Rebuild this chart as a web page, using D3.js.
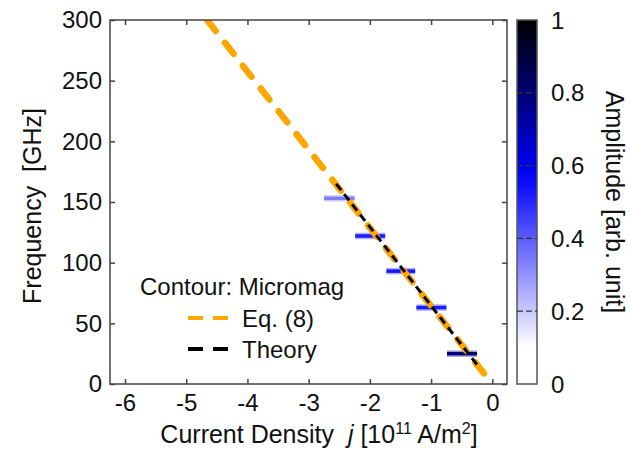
<!DOCTYPE html>
<html><head><meta charset="utf-8">
<script src="https://cdn.jsdelivr.net/npm/d3@7"></script>
<style>body{margin:0;background:#fff}text{font-family:"Liberation Sans",Arial,sans-serif;fill:#111;white-space:pre}</style>
</head><body><svg id="c" width="630" height="462"></svg>
<script>
// Data
const xTicks = [-6, -5, -4, -3, -2, -1, 0];
const yTicks = [0, 50, 100, 150, 200, 250, 300];
const cbTicks = [0, 0.2, 0.4, 0.6, 0.8, 1];
const cbTickLabels = ["0", "0.2", "0.4", "0.6", "0.8", "1"];
// Eq. (8) line endpoints
const eqJ = [-4.66, 0];
const eqF = [300, 0];
// Theory line endpoints
const thJ = [-2.55, -0.22];
const thF = [165, 14];
// Micromag contour bars
const barF = [153, 122, 93, 63, 25];
const barJ0 = [-2.75, -2.24, -1.73, -1.24, -0.74];
const barJ1 = [-2.25, -1.75, -1.26, -0.75, -0.25];
const barAmp = [0.34, 0.52, 0.53, 0.52, 0.79];

const svg = d3.select("#c");
const L = 110, R = 507, T = 20, B = 384;
const x = d3.scaleLinear().domain([-6.245, 0.24]).range([L, R]);
const y = d3.scaleLinear().domain([0, 300]).range([B, T]);
const color = d3.scaleLinear().domain([0, 0.1, 0.57, 1]).range(["#ffffff", "#ffffff", "#0000ff", "#000000"]);

const axCol = "#444";
svg.append("clipPath").attr("id", "clip").append("rect").attr("x", L).attr("y", T).attr("width", R - L).attr("height", B - T);

// bars
const g = svg.append("g").attr("clip-path", "url(#clip)");
barF.forEach((f, i) => {
  g.append("line").attr("x1", x(barJ0[i])).attr("x2", x(barJ1[i])).attr("y1", y(f)).attr("y2", y(f))
    .attr("stroke", color(barAmp[i])).attr("stroke-width", 6.5).attr("opacity", 0.35);
  g.append("line").attr("x1", x(barJ0[i])).attr("x2", x(barJ1[i])).attr("y1", y(f)).attr("y2", y(f))
    .attr("stroke", color(barAmp[i])).attr("stroke-width", 3.5);
});
// Eq. (8)
const line = d3.line().x(d => x(d[0])).y(d => y(d[1]));
g.append("path").attr("d", line(eqJ.map((j, i) => [j, eqF[i]])))
  .attr("fill", "none").attr("stroke", "#FFA500").attr("stroke-width", 6.5)
  .attr("stroke-linecap", "round").attr("stroke-dasharray", "14,15");
// Theory
g.append("path").attr("d", line(thJ.map((j, i) => [j, thF[i]])))
  .attr("fill", "none").attr("stroke", "#000").attr("stroke-width", 3)
  .attr("stroke-dasharray", "8,5");

// axes
const tl = 5;
const fmt = d => String(d);
svg.append("g").attr("transform", `translate(0,${B})`)
  .call(d3.axisBottom(x).tickValues(xTicks).tickSize(-tl).tickPadding(10).tickFormat(fmt))
  .call(a => { a.select(".domain").remove(); });
svg.append("g").attr("transform", `translate(0,${T})`)
  .call(d3.axisTop(x).tickValues(xTicks).tickSize(-tl).tickFormat(""))
  .call(a => { a.select(".domain").remove(); });
svg.append("g").attr("transform", `translate(${L},0)`)
  .call(d3.axisLeft(y).tickValues(yTicks).tickSize(-tl).tickPadding(8).tickFormat(fmt))
  .call(a => { a.select(".domain").remove(); });
svg.append("g").attr("transform", `translate(${R},0)`)
  .call(d3.axisRight(y).tickValues(yTicks).tickSize(-tl).tickFormat(""))
  .call(a => { a.select(".domain").remove(); });
svg.selectAll(".tick line").attr("stroke", axCol).attr("stroke-width", 1.5);
svg.selectAll(".tick text").style("font-size", "24px").attr("fill", "#111").style("font-family", "Liberation Sans, Arial, sans-serif");
svg.append("rect").attr("x", L).attr("y", T).attr("width", R - L).attr("height", B - T)
  .attr("fill", "none").attr("stroke", axCol).attr("stroke-width", 1.5);

// axis labels
svg.append("text").attr("transform", `translate(41,${(T + B) / 2 + 4}) rotate(-90)`)
  .attr("text-anchor", "middle").style("font-size", "25px").text("Frequency  [GHz]");
const xl = svg.append("text").attr("x", 319).attr("y", 443).attr("text-anchor", "middle").style("font-size", "25px");
xl.append("tspan").text("Current Density  ");
xl.append("tspan").style("font-style", "italic").text("j");
xl.append("tspan").text(" [10");
xl.append("tspan").attr("dy", -9).style("font-size", "16px").text("11");
xl.append("tspan").attr("dy", 9).text(" A/m");
xl.append("tspan").attr("dy", -9).style("font-size", "16px").text("2");
xl.append("tspan").attr("dy", 9).text("]");

// legend
svg.append("text").attr("x", 140).attr("y", 295).style("font-size", "24px").text("Contour: Micromag");
const legItems = [{ c: "#FFA500", t: "Eq. (8)", yy: 318 }, { c: "#000", t: "Theory", yy: 349 }];
legItems.forEach(d => {
  svg.append("line").attr("x1", 188).attr("x2", 228).attr("y1", d.yy).attr("y2", d.yy)
    .attr("stroke", d.c).attr("stroke-width", 4).attr("stroke-dasharray", "15,10");
  svg.append("text").attr("x", 242).attr("y", d.yy + 9).style("font-size", "24px").text(d.t);
});

// colorbar
const cbL = 517, cbW = 20;
const cy = d3.scaleLinear().domain([0, 1]).range([B, T]);
const grad = svg.append("defs").append("linearGradient").attr("id", "cbg")
  .attr("x1", 0).attr("y1", 1).attr("x2", 0).attr("y2", 0);
d3.range(0, 1.0001, 0.05).forEach(v => grad.append("stop").attr("offset", v).attr("stop-color", color(v)));
svg.append("rect").attr("x", cbL).attr("y", T).attr("width", cbW).attr("height", B - T)
  .attr("fill", "url(#cbg)").attr("stroke", "#555").attr("stroke-width", 1.5);
cbTicks.filter(v => v > 0 && v < 1).forEach(v => {
  svg.append("line").attr("x1", cbL).attr("x2", cbL + cbW).attr("y1", cy(v)).attr("y2", cy(v))
    .attr("stroke", "#333").attr("stroke-width", 1.2).attr("stroke-dasharray", "6,3");
});
cbTicks.forEach((v, i) => {
  svg.append("text").attr("x", 551).attr("y", cy(v) + 8.5).style("font-size", "24px").text(cbTickLabels[i]);
});
svg.append("text").attr("transform", `translate(606,${(T + B) / 2}) rotate(90)`)
  .attr("text-anchor", "middle").style("font-size", "25px").text("Amplitude [arb. unit]");
</script></body></html>
